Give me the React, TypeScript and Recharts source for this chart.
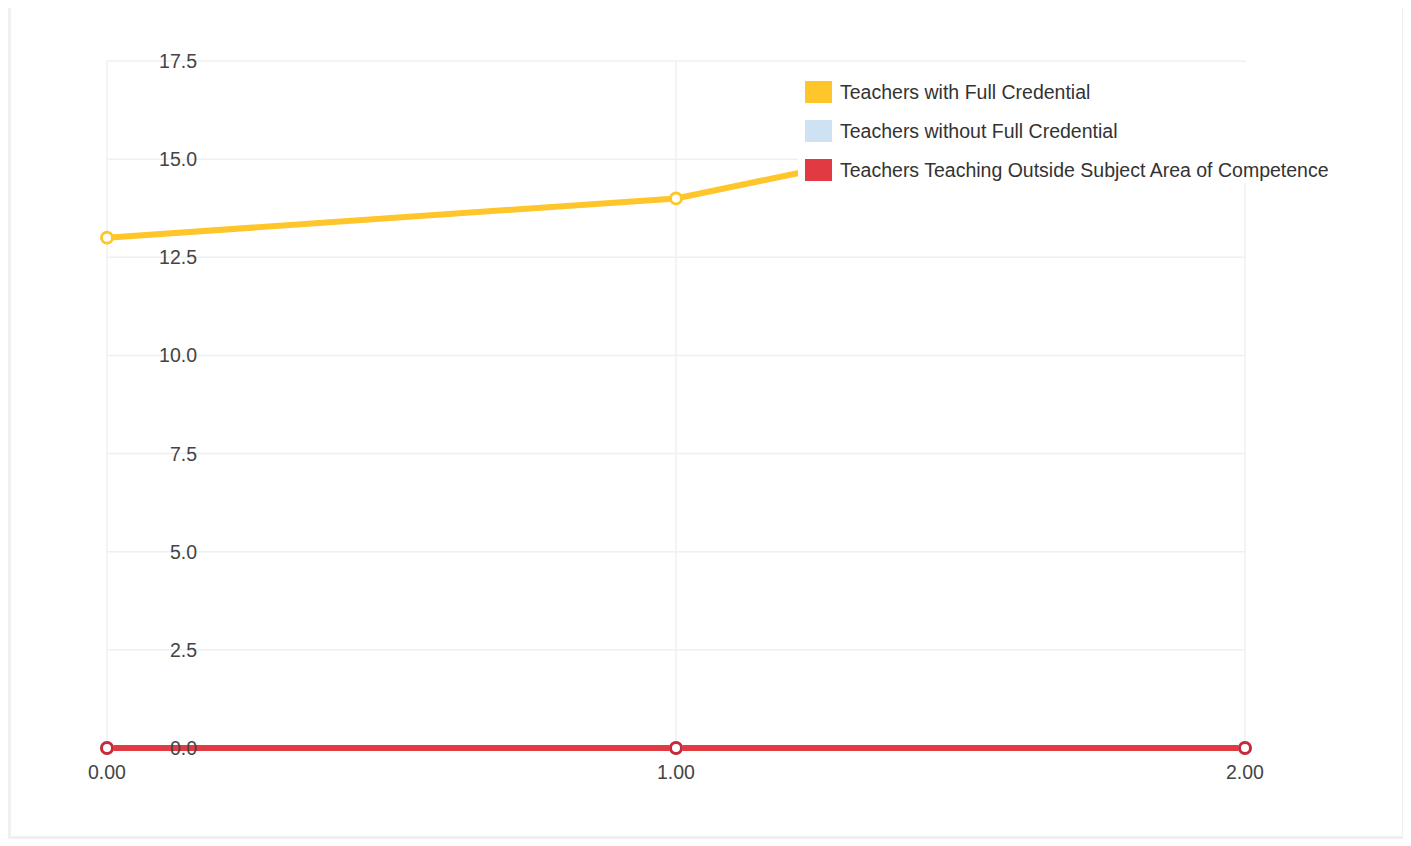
import React from 'react';
import { LineChart, Line, XAxis, YAxis, CartesianGrid } from 'recharts';

// x positions and series values
const xValues: number[] = [0, 1, 2];
const fullCredential: number[] = [13, 14, 17];
const withoutCredential: number[] = [0, 0, 0];
const outsideSubject: number[] = [0, 0, 0];

const seriesNames: string[] = [
    'Teachers with Full Credential',
    'Teachers without Full Credential',
    'Teachers Teaching Outside Subject Area of Competence',
];
const seriesColors: string[] = ['#FFC62B', '#CFE2F3', '#E13A42'];
const dotStrokes: string[] = ['#FFC62B', '#CFE2F3', '#C92A3A'];

const xTicks: number[] = [0, 1, 2];
const yTicks: number[] = [0, 2.5, 5, 7.5, 10, 12.5, 15, 17.5];

const data = xValues.map((x, i) => ({
    x,
    full: fullCredential[i],
    without: withoutCredential[i],
    outside: outsideSubject[i],
}));

const FONT = '"Liberation Sans", Arial, sans-serif';

// y labels sit inside the plot, right-aligned a little past the axis
const YTick = (props: any) => {
    const { x, y, payload } = props;
    return (
        <text x={x + 90} y={y} textAnchor="end" dominantBaseline="central" fill="#444" fontSize={19.5} fontFamily={FONT}>
            {Number(payload.value).toFixed(1)}
        </text>
    );
};

const XTick = (props: any) => {
    const { x, y, payload } = props;
    return (
        <text x={x} y={y + 31} textAnchor="middle" fill="#444" fontSize={19.5} fontFamily={FONT}>
            {Number(payload.value).toFixed(2)}
        </text>
    );
};

const ChartLegend: React.FC = () => (
    <div
        style={{
            position: 'absolute',
            left: 787,
            top: 55,
            width: 455,
            height: 120,
            background: '#fff',
            fontFamily: FONT,
            fontSize: 19.5,
            color: '#333',
            whiteSpace: 'nowrap',
        }}
    >
        {seriesNames.map((name, i) => (
            <div key={name} style={{ position: 'absolute', left: 7, top: 18 + i * 39, height: 22, display: 'flex', alignItems: 'center' }}>
                <span style={{ display: 'inline-block', width: 27, height: 22, background: seriesColors[i], marginRight: 8 }} />
                <span>{name}</span>
            </div>
        ))}
    </div>
);

const App: React.FC = () => {
    const keys = ['full', 'without', 'outside'];
    return (
        <div
            style={{
                position: 'relative',
                boxSizing: 'border-box',
                width: 1397,
                height: 831,
                borderLeft: '3px solid #f0f0f0',
                borderRight: '3px solid #f0f0f0',
                borderBottom: '3px solid #f0f0f0',
                background: '#fff',
            }}
        >
            <LineChart width={1391} height={828} data={data} margin={{ top: 53, right: 157, bottom: 48, left: 95 }}>
                <CartesianGrid stroke="#f0f0f0" strokeWidth={1.5} />
                <XAxis
                    dataKey="x"
                    type="number"
                    domain={[0, 2]}
                    ticks={xTicks}
                    height={40}
                    axisLine={false}
                    tickLine={false}
                    tickSize={0}
                    tickMargin={0}
                    tick={<XTick />}
                />
                <YAxis
                    type="number"
                    domain={[0, 17.5]}
                    ticks={yTicks}
                    width={1}
                    axisLine={false}
                    tickLine={false}
                    tickSize={0}
                    tickMargin={0}
                    tick={<YTick />}
                />
                {keys.map((k, i) => (
                    <Line
                        key={k}
                        type="linear"
                        dataKey={k}
                        name={seriesNames[i]}
                        stroke={seriesColors[i]}
                        strokeWidth={6}
                        dot={{ r: 5.5, fill: '#fff', stroke: dotStrokes[i], strokeWidth: 3 }}
                        isAnimationActive={false}
                    />
                ))}
            </LineChart>
            <ChartLegend />
        </div>
    );
};

export default App;
